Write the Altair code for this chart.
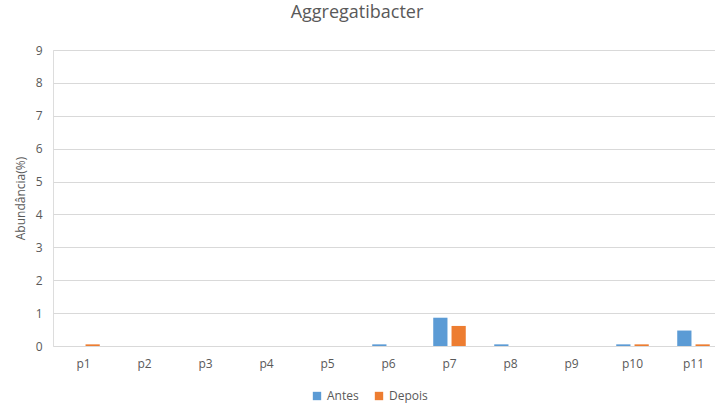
import altair as alt
import pandas as pd

# Abundance (%) of Aggregatibacter per patient, before and after
patients = ["p1", "p2", "p3", "p4", "p5", "p6", "p7", "p8", "p9", "p10", "p11"]
antes = [0.0, 0.0, 0.0, 0.0, 0.0, 0.05, 0.86, 0.05, 0.0, 0.05, 0.47]
depois = [0.05, 0.0, 0.0, 0.0, 0.0, 0.0, 0.61, 0.0, 0.0, 0.05, 0.05]
series = ["Antes", "Depois"]
colors = ["#5B9BD5", "#ED7D31"]
y_ticks = list(range(0, 10))

rows = []
for i, p in enumerate(patients):
    rows.append({"paciente": p, "momento": "Antes", "valor": antes[i]})
    rows.append({"paciente": p, "momento": "Depois", "valor": depois[i]})
df = pd.DataFrame(rows)

FONT = "Open Sans"
GREY = "#595959"

chart = (
    alt.Chart(df)
    .mark_bar()
    .encode(
        x=alt.X(
            "paciente:N",
            sort=patients,
            scale=alt.Scale(range=[0, 671], paddingInner=0, paddingOuter=0),
            axis=alt.Axis(
                title=None,
                labelAngle=0,
                domain=False,
                ticks=False,
                labelPadding=12,
                labelFontSize=12,
                labelColor=GREY,
                labelFont=FONT,
            ),
        ),
        xOffset=alt.XOffset(
            "momento:N",
            sort=series,
            scale=alt.Scale(paddingInner=0.222, paddingOuter=0.778),
        ),
        y=alt.Y(
            "valor:Q",
            scale=alt.Scale(domain=[0, 9], nice=False),
            axis=alt.Axis(
                title="Abundância(%)",
                values=y_ticks,
                format="d",
                domain=False,
                ticks=False,
                labelPadding=11,
                labelFontSize=12,
                labelColor=GREY,
                labelFont=FONT,
                titleFont=FONT,
                titleFontSize=12,
                titleFontWeight="normal",
                titleColor=GREY,
                titlePadding=8,
                gridColor="#D9D9D9",
                gridWidth=1,
            ),
        ),
        color=alt.Color(
            "momento:N",
            sort=series,
            scale=alt.Scale(domain=series, range=colors),
            legend=alt.Legend(
                title=None,
                orient="none",
                direction="horizontal",
                legendX=258,
                legendY=340,
                symbolType="square",
                symbolSize=70,
                symbolStrokeWidth=0,
                labelFont=FONT,
                labelFontSize=12,
                labelColor=GREY,
                columnPadding=14,
            ),
        ),
    )
    .properties(
        width=662,
        height=296,
        padding={"left": 53, "top": 50, "right": 0, "bottom": 61},
        autosize=alt.AutoSizeParams(type="none"),
        title=alt.TitleParams(
            "Aggregatibacter",
            font=FONT,
            fontSize=18,
            fontWeight="normal",
            color=GREY,
            anchor="middle",
            offset=22,
            dx=-27,
        ),
    )
    .configure_view(stroke=None)
    .configure(background="white")
)

chart.save("out.html", embed_options={"renderer": "svg", "actions": False})
